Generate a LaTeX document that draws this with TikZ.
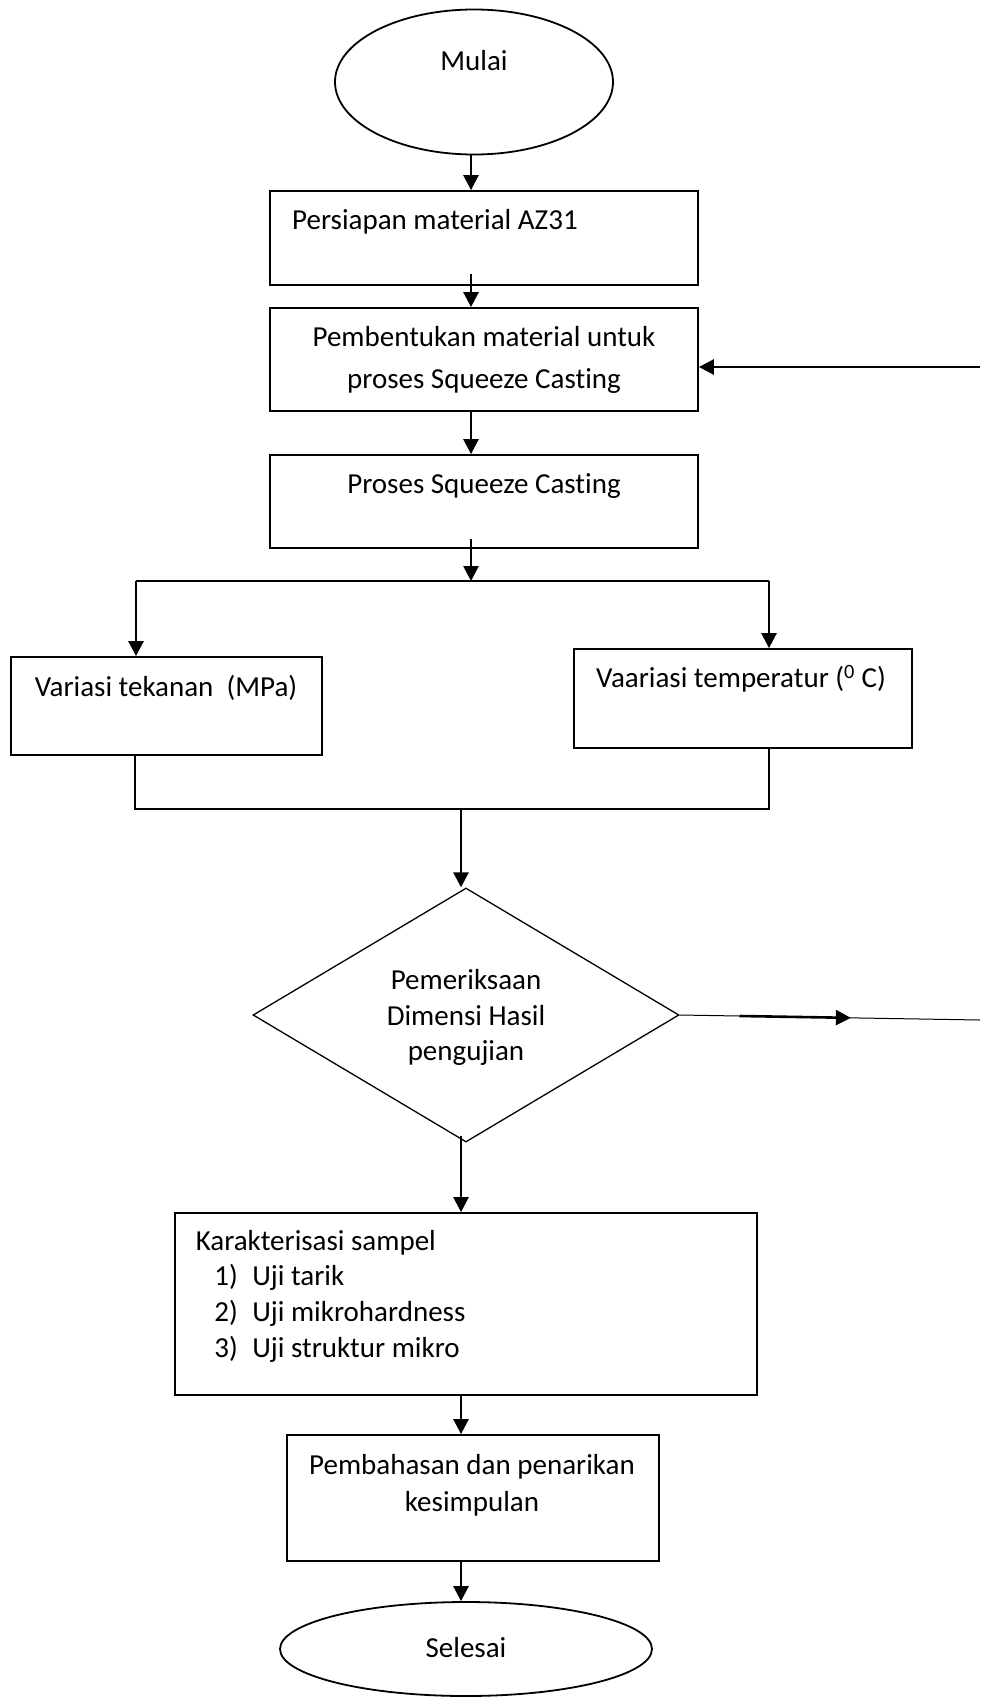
\documentclass[tikz,border=0pt]{standalone}
\usepackage{fontspec}
\setmainfont[Ligatures=NoCommon]{Carlito}
\usetikzlibrary{arrows.meta,shapes.geometric,calc}
\begin{document}
\begin{tikzpicture}[x=1pt,y=-1pt,
  box/.style={draw, line width=1.8pt, inner sep=0pt},
  txt/.style={inner sep=0pt, font=\fontsize{29}{36}\selectfont},
  arr/.style={line width=2.6pt, -{Triangle[length=15pt,width=15pt]}},
  link/.style={line width=2pt},
  thinline/.style={line width=1pt}]
\useasboundingbox (0,0) rectangle (980,1702);
\fill[white] (0,0) rectangle (980,1702);
% spine coordinates
\coordinate (cx) at (471,0);
\coordinate (cy) at (461,0);
% shapes
\node[box, ellipse, minimum width=278pt, minimum height=145pt] (mulai) at (474,82) {};
\node[box, minimum width=428pt, minimum height=94pt] (b1) at (484,238) {};
\node[box, minimum width=428pt, minimum height=103pt] (b2) at (484,359.5) {};
\node[box, minimum width=428pt, minimum height=93pt] (b3) at (484,501.5) {};
\node[box, minimum width=311pt, minimum height=98pt] (bL) at (166.5,706) {};
\node[box, minimum width=338pt, minimum height=99pt] (bR) at (743,698.5) {};
\node[draw, line width=1.3pt, inner sep=0pt, diamond, minimum width=426pt, minimum height=254pt] (dia) at (466,1015) {};
\node[box, minimum width=582pt, minimum height=182pt] (bK) at (466,1304) {};
\node[box, minimum width=372pt, minimum height=126pt] (bP) at (473,1498) {};
\node[box, ellipse, minimum width=372pt, minimum height=94pt] (selesai) at (466,1649) {};
% texts
\node[txt, anchor=base] (tmulai) at (474,70.7) {Mulai};
\node[txt, anchor=base west] (t1) at (292,229.3) {Persiapan material AZ31};
\node[txt, anchor=base] (t2a) at (484,346.7) {Pembentukan material untuk};
\node[txt, anchor=base] (t2b) at (484,388.3) {proses Squeeze Casting};
\node[txt, anchor=base] (t3) at (484,493.3) {Proses Squeeze Casting};
\node[txt, anchor=base] (tL) at (166,696) {Variasi tekanan\ \ (MPa)};
\node[txt, anchor=base] (tR) at (741,687.7) {Vaariasi temperatur (\textsuperscript{0} C)};
\node[txt, anchor=base] (td1) at (466,989.3) {Pemeriksaan};
\node[txt, anchor=base] (td2) at (466,1025) {Dimensi Hasil};
\node[txt, anchor=base] (td3) at (466,1060) {pengujian};
\node[txt, anchor=base west] (tk0) at (195.6,1250.4) {Karakterisasi sampel};
\node[txt, anchor=base west] (tk1n) at (214.2,1285.6) {1)};
\node[txt, anchor=base west] (tk1) at (252.1,1285.6) {Uji tarik};
\node[txt, anchor=base west] (tk2n) at (214.2,1321.8) {2)};
\node[txt, anchor=base west] (tk2) at (252.1,1321.8) {Uji mikrohardness};
\node[txt, anchor=base west] (tk3n) at (214.2,1357.7) {3)};
\node[txt, anchor=base west] (tk3) at (252.1,1357.7) {Uji struktur mikro};
\node[txt, anchor=base] (tp1) at (472,1474.6) {Pembahasan dan penarikan};
\node[txt, anchor=base] (tp2) at (472,1511) {kesimpulan};
\node[txt, anchor=base] (tsel) at (466,1657) {Selesai};
% connectors
\draw[arr] (mulai.south -| cx) -- (b1.north -| cx);
\coordinate (s2) at ($(b1.south -| cx)+(0,-12)$);
\draw[arr] (s2) -- (b2.north -| cx);
\coordinate (fb) at (980,367);
\draw[arr] (fb) -- (b2.east |- fb);
\draw[arr] (b2.south -| cx) -- (b3.north -| cx);
\coordinate (s3) at ($(b3.south -| cx)+(0,-10)$);
\coordinate (split) at (471,581);
\draw[arr] (s3) -- (split);
\coordinate (sl) at (136,581);
\coordinate (sr) at (769,581);
\draw[link] (sl) -- (sr);
\draw[arr] (sl) -- (bL.north -| sl);
\draw[arr] (sr) -- (bR.north -| sr);
\coordinate (ml) at (135,809);
\coordinate (mr) at (769,809);
\draw[link] (bL.south -| ml) -- (ml) -- (mr) -- (bR.south -| mr);
\coordinate (mc) at (461,809);
\draw[arr] (mc) -- (dia.north -| mc);
\coordinate (rend) at (980,1020);
\draw[thinline] (dia.east) -- (rend);
\draw[arr] ($(dia.east)!0.2!(rend)$) -- ($(dia.east)!0.57!(rend)$);
\coordinate (s4) at ($(dia.south -| cy)+(0,-7)$);
\draw[arr] (s4) -- (bK.north -| cy);
\draw[arr] (bK.south -| cy) -- (bP.north -| cy);
\draw[arr] (bP.south -| cy) -- (selesai.north -| cy);
\end{tikzpicture}
\end{document}
